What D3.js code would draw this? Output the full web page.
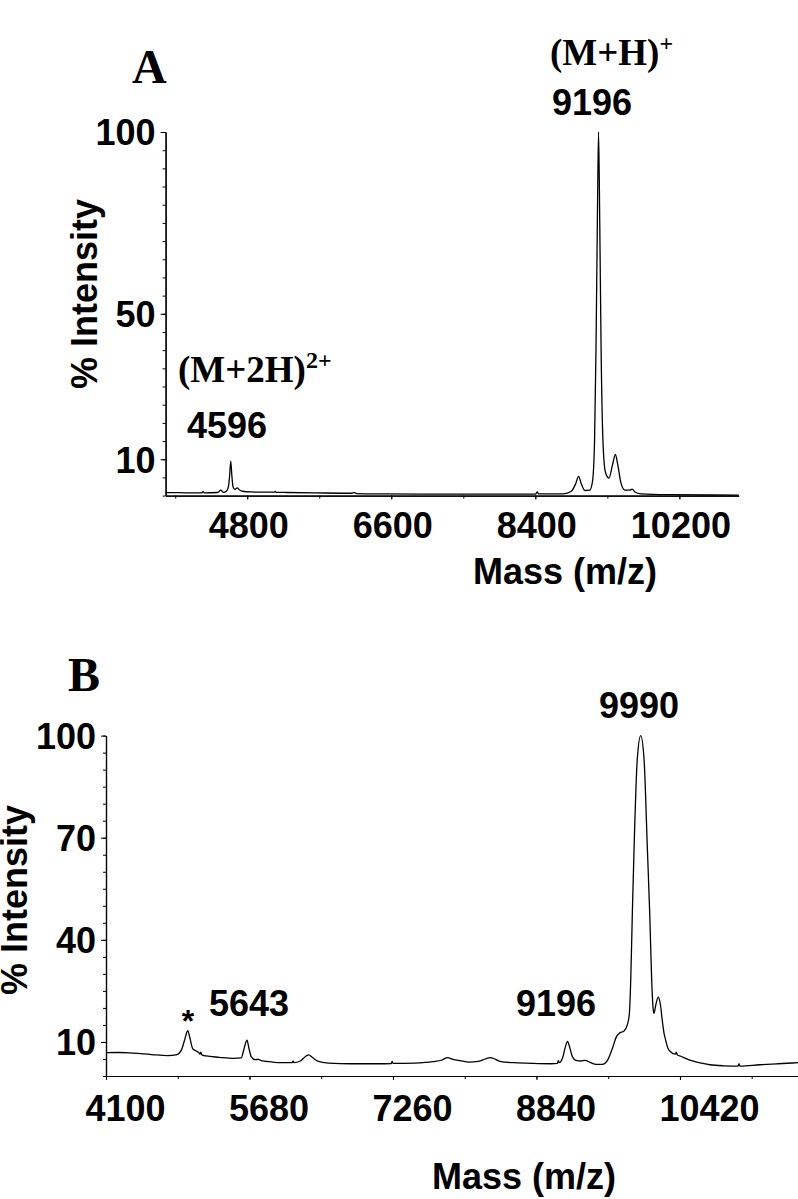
<!DOCTYPE html>
<html><head><meta charset="utf-8">
<script src="https://cdn.jsdelivr.net/npm/d3@7"></script>
<style>
html,body{margin:0;padding:0;background:#fff;}
svg{display:block;}
.num{font-family:"Liberation Sans",Arial,sans-serif;font-weight:bold;font-size:36px;fill:#000;}
.ser{font-family:"Liberation Serif","Times New Roman",serif;font-weight:bold;fill:#000;}
</style></head><body>
<script>
// ---------- Panel A data ----------
const massA = [3780,3950,4100,4230,4250,4265,4430,4470,4500,4540,4565,4580,4594,4608,4622,4645,4675,4700,4740,4850,5000,5140,5150,5160,5300,5650,6100,6140,6170,6500,7000,7500,8000,8400,8425,8440,8750,8850,8905,8940,8975,9020,9080,9115,9140,9158,9175,9190,9205,9222,9245,9275,9320,9365,9400,9430,9470,9520,9580,9610,9645,9720,10050,10940];
const intensityA = [0.8,0.8,0.75,0.75,1.1,0.75,0.85,1.5,0.9,1.2,2.5,5.5,9.5,5.5,2.5,1.7,2.1,1.6,1.2,1.0,0.95,0.95,1.15,0.9,0.85,0.75,0.65,0.8,0.55,0.45,0.4,0.4,0.4,0.4,1.0,0.45,0.5,1.2,3.3,5.3,3.2,1.4,1.5,4,15,40,75,100,75,40,15,6.5,4.8,8.5,11.3,8.5,3.5,1.5,1.5,1.8,1.0,0.5,0.25,0.15];
const xTicksMinorA = [3900,4800,5700,6600,7500,8400,9300,10200];
const xTicksLabelA = [4800,6600,8400,10200];
const yTicksMinorA = [0,5,10,15,20,25,30,35,40,45,50,55,60,65,70,75,80,85,90,95,100];
const yTicksLabelA = [10,50,100];

// ---------- Panel B data ----------
const massB = [4100,4250,4400,4600,4780,4880,4930,4965,5000,5025,5055,5090,5120,5135,5145,5155,5200,5350,5500,5590,5615,5652,5675,5700,5740,5780,5810,5900,6050,6150,6160,6170,6240,6300,6330,6370,6430,6550,6800,7100,7240,7250,7260,7500,7700,7800,7860,7920,8000,8100,8200,8280,8330,8390,8450,8600,8800,9000,9070,9080,9090,9130,9160,9182,9205,9235,9275,9330,9375,9430,9500,9566,9620,9676,9720,9750,9790,9805,9840,9862,9878,9896,9915,9950,9988,10025,10061,10087,10109,10124,10134,10155,10181,10205,10225,10245,10262,10290,10317,10370,10380,10392,10430,10482,10550,10628,10750,10900,11060,11070,11080,11300,11500,11720];
const intensityB = [6.85,6.9,6.7,6.3,6.0,6.3,7.6,10.5,13.3,11,8,7.4,6.9,6.4,7.0,6.2,5.9,5.5,5.2,5.3,7.5,10.5,8,5.6,4.8,4.9,4.5,4.2,3.9,3.9,4.4,3.9,4.4,5.8,6.2,5.5,4.4,3.8,3.6,3.6,3.65,4.3,3.7,3.8,4.2,4.7,5.4,4.9,4.5,4.1,4.3,5.0,5.4,4.9,4.2,3.9,3.7,3.6,3.7,4.5,3.9,5.5,8.7,10.2,8.5,5.7,4.6,4.4,4.6,4.0,3.4,3.4,4.5,8.1,11.5,12.5,13,13.2,15,18,28,48,67,93,100,93,67,48,28,20,18.4,21,23.2,21,16.4,12.5,10.6,8,7.1,6.4,7.0,6.2,5.8,5.2,4.5,3.9,3.3,3.0,2.9,3.6,2.9,3.3,3.6,3.9];
const xTicksMinorB = [4100,4890,5680,6470,7260,8050,8840,9630,10420,11210];
const xTicksLabelB = [4100,5680,7260,8840,10420];
const yTicksMinorB = [0,5,10,15,20,25,30,35,40,45,50,55,60,65,70,75,80,85,90,95,100];
const yTicksLabelB = [10,40,70,100];

const W = 798, H = 1199;
const svg = d3.select("body").append("svg").attr("width", W).attr("height", H);

function panel(cfg) {
  const x = d3.scaleLinear().domain(cfg.xDomain).range(cfg.xRange);
  const y = d3.scaleLinear().domain([0, 100]).range(cfg.yRange);
  const g = svg.append("g");

  // minor ticks
  g.append("g").attr("transform", `translate(0,${cfg.yRange[0]})`)
    .call(d3.axisBottom(x).tickValues(cfg.xMinor).tickSize(3).tickSizeOuter(0).tickFormat(""));
  g.append("g").attr("transform", `translate(${cfg.xRange[0]},0)`)
    .call(d3.axisLeft(y).tickValues(cfg.yMinor).tickSize(3).tickSizeOuter(0).tickFormat(""));

  // labelled ticks
  const xa = g.append("g").attr("transform", `translate(0,${cfg.yRange[0]})`)
    .call(d3.axisBottom(x).tickValues(cfg.xLabels).tickSize(4).tickSizeOuter(0).tickFormat(d3.format("d")));
  xa.selectAll("text").attr("class", "num").attr("y", cfg.xLabelBase).attr("dy", 0)
    .attr("text-anchor", cfg.xAnchor).attr("dx", cfg.xLabelDx);
  const ya = g.append("g").attr("transform", `translate(${cfg.xRange[0]},0)`)
    .call(d3.axisLeft(y).tickValues(cfg.yLabels).tickSize(5).tickSizeOuter(0).tickFormat(d3.format("d")));
  ya.selectAll("text").attr("class", "num").attr("x", -10).attr("dy", "0.36em");
  g.selectAll("g").attr("font-size", null).attr("font-family", null);
  g.selectAll(".domain").attr("stroke", "#000").attr("stroke-width", 1.2);
  g.selectAll(".tick line").attr("stroke", "#000").attr("stroke-width", 1);

  // spectrum
  const pts = cfg.mass.map((m, i) => [m, cfg.inten[i]]);
  g.append("path").datum(pts)
    .attr("fill", "none").attr("stroke", "#000").attr("stroke-width", 1.3)
    .attr("d", d3.line().x(d => x(d[0])).y(d => y(d[1])).curve(d3.curveMonotoneX));

  // axis titles
  g.append("text").attr("class", "num")
    .attr("transform", `translate(${cfg.yTitle[0]},${cfg.yTitle[1]}) rotate(-90)`)
    .attr("text-anchor", "middle").text("% Intensity");
  g.append("text").attr("class", "num").attr("x", cfg.xTitle[0]).attr("y", cfg.xTitle[1])
    .attr("text-anchor", "middle").text("Mass (m/z)");
  return {x, y, g};
}

const A = panel({
  xDomain: [3780, 10940], xRange: [165.6, 738.6], yRange: [495.6, 132],
  xMinor: xTicksMinorA, xLabels: xTicksLabelA, yMinor: yTicksMinorA, yLabels: yTicksLabelA,
  xLabelBase: 42, xAnchor: "middle", xLabelDx: 1,
  mass: massA, inten: intensityA,
  yTitle: [97, 294], xTitle: [565, 584]
});

const B = panel({
  xDomain: [4100, 11720], xRange: [106, 798], yRange: [1076, 735.6],
  xMinor: xTicksMinorB, xLabels: xTicksLabelB, yMinor: yTicksMinorB, yLabels: yTicksLabelB,
  xLabelBase: 45, xAnchor: "start", xLabelDx: -21,
  mass: massB, inten: intensityB,
  yTitle: [27, 900], xTitle: [524, 1189]
});

// Panel letters
svg.append("text").attr("class", "ser").attr("x", 132).attr("y", 83).attr("font-size", 48).text("A");
svg.append("text").attr("class", "ser").attr("x", 68).attr("y", 691).attr("font-size", 48).text("B");

// Panel A annotations
const t1 = svg.append("text").attr("class", "ser").attr("x", 550).attr("y", 65).attr("font-size", 37);
t1.append("tspan").text("(M+H)");
t1.append("tspan").attr("font-size", 24).attr("dy", -14).text("+");
const t2 = svg.append("text").attr("class", "ser").attr("x", 178).attr("y", 382).attr("font-size", 37);
t2.append("tspan").text("(M+2H)");
t2.append("tspan").attr("font-size", 24).attr("dy", -14).text("2+");
svg.append("text").attr("class", "num").attr("x", 592).attr("y", 115).attr("text-anchor", "middle").text("9196");
svg.append("text").attr("class", "num").attr("x", 227).attr("y", 438).attr("text-anchor", "middle").text("4596");

// Panel B annotations
svg.append("text").attr("class", "num").attr("x", 639).attr("y", 718).attr("text-anchor", "middle").text("9990");
svg.append("text").attr("class", "num").attr("x", 556).attr("y", 1016).attr("text-anchor", "middle").text("9196");
svg.append("text").attr("class", "num").attr("x", 249).attr("y", 1016).attr("text-anchor", "middle").text("5643");
svg.append("text").attr("class", "num").attr("x", 188).attr("y", 1032).attr("text-anchor", "middle").style("font-size","32px").text("*");
</script>
</body></html>
